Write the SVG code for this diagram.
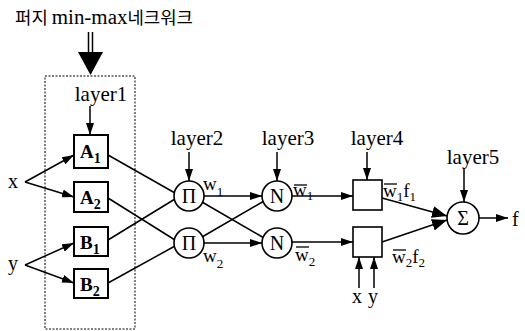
<svg xmlns="http://www.w3.org/2000/svg" width="525" height="331" viewBox="0 0 525 331">
<style>
text{font-family:Tinos,"Liberation Serif","Nimbus Roman","Nimbus Roman No9 L","DejaVu Serif",FreeSerif,"Noto Serif",Times,serif;fill:#000}
.lbl{font-size:21px;text-anchor:middle}
.sym{font-size:20px;text-anchor:middle}
.var{font-size:20px}
.w{font-size:19px}
.sub{font-size:13px}
.bl{font-weight:bold;font-size:19px}
.bsub{font-weight:bold;font-size:14px}
.kr{font-family:"Noto Sans CJK KR","Noto Sans CJK SC",sans-serif;font-size:17px}
.bx{fill:#fff;stroke:#000;stroke-width:2}
.bx4{fill:#fff;stroke:#000;stroke-width:1.6}
.nd{fill:#fff;stroke:#000;stroke-width:1.6}
.c{stroke:#000;stroke-width:1.5;fill:none}
.ar{marker-end:url(#ah)}
.big{marker-end:url(#bh)}
.ov{stroke:#000;stroke-width:1.3}
</style>
<defs>
<marker id="ah" markerUnits="userSpaceOnUse" markerWidth="12" markerHeight="8" refX="12" refY="4" orient="auto"><path d="M0,0 L12,4 L0,8 z" fill="#000"/></marker>
<marker id="bh" markerUnits="userSpaceOnUse" markerWidth="15" markerHeight="12" refX="15" refY="6" orient="auto"><path d="M0,0 L15,6 L0,12 z" fill="#000"/></marker>
</defs>
<rect width="525" height="331" fill="#fff"/>

<g id="title">
<text x="15" y="24" textLength="178" lengthAdjust="spacingAndGlyphs"><tspan class="kr">퍼지 </tspan><tspan font-size="20">min-max</tspan><tspan class="kr">네크워크</tspan></text>
<line x1="88.5" y1="32" x2="88.5" y2="53" stroke="#000" stroke-width="1.5"/>
<line x1="92.5" y1="32" x2="92.5" y2="53" stroke="#000" stroke-width="1.5"/>
<path d="M78,52 L103,52 L90.5,75 z" fill="#000"/>
</g>

<g id="fuzzy-box">
<rect x="45" y="76" width="90" height="253" fill="none" stroke="#000" stroke-width="1" stroke-dasharray="2 1.5"/>
</g>

<g id="connectors">
<path class="c ar" d="M25,182 L74,155"/>
<path class="c ar" d="M25,182 L74,197"/>
<path class="c ar" d="M25,265 L74,243"/>
<path class="c ar" d="M25,265 L74,283"/>
<path class="c" d="M108,155 L175,193"/>
<path class="c" d="M108,240 L175,199"/>
<path class="c" d="M108,198 L175,240"/>
<path class="c" d="M108,283 L175,246"/>
<path class="c ar" d="M204,196 L262,196"/>
<path class="c" d="M202,202 L264,238"/>
<path class="c" d="M202,237 L264,201"/>
<path class="c ar" d="M204,243 L262,243"/>
<path class="c ar" d="M292,196 L353,196"/>
<path class="c ar" d="M292,242 L353,242"/>
<path class="c big" d="M382,198 L447,216"/>
<path class="c big" d="M382,242 L447,220"/>
<path class="c ar" d="M479,218 L508,218"/>
<path class="c ar" d="M359,288 L359,257"/>
<path class="c ar" d="M374,288 L374,257"/>
<path class="c ar" d="M90,106 L90,135"/>
<path class="c ar" d="M189,152 L189,181"/>
<path class="c ar" d="M277,152 L277,181"/>
<path class="c ar" d="M367,152 L367,180"/>
<path class="c ar" d="M464,168 L464,202"/>
</g>

<g id="labels">
<text class="lbl" x="101" y="101">layer1</text>
<text class="lbl" x="197" y="145">layer2</text>
<text class="lbl" x="288" y="145">layer3</text>
<text class="lbl" x="377" y="145">layer4</text>
<text class="lbl" x="473" y="164">layer5</text>
<text class="w" x="203" y="190">w<tspan class="sub" dy="6">1</tspan></text>
<text class="w" x="203" y="262">w<tspan class="sub" dy="6">2</tspan></text>
<line class="ov" x1="294" y1="185" x2="307" y2="185"/>
<text class="w" x="293" y="196">w<tspan class="sub" dy="4">1</tspan></text>
<line class="ov" x1="296" y1="247" x2="309" y2="247"/>
<text class="w" x="295" y="261">w<tspan class="sub" dy="5">2</tspan></text>
<line class="ov" x1="384" y1="184" x2="397" y2="184"/>
<text class="w" x="383" y="197">w<tspan class="sub" dy="4">1</tspan><tspan dy="-4">f</tspan><tspan class="sub" dy="4">1</tspan></text>
<line class="ov" x1="393" y1="250" x2="406" y2="250"/>
<text class="w" x="392" y="263">w<tspan class="sub" dy="4">2</tspan><tspan dy="-4">f</tspan><tspan class="sub" dy="4">2</tspan></text>
<text class="var" x="352" y="303">x</text>
<text class="var" x="368" y="303">y</text>
<text class="var" x="512" y="226">f</text>
</g>

<g id="x"><text class="var" x="8" y="188">x</text></g>
<g id="y"><text class="var" x="8" y="270">y</text></g>

<g id="A1"><rect class="bx" x="74" y="135" width="34" height="33" stroke-width="2.6"/><text class="bl" x="80" y="158">A<tspan class="bsub" dy="5">1</tspan></text></g>
<g id="A2"><rect class="bx" x="74" y="182" width="34" height="30"/><text class="bl" x="80" y="204">A<tspan class="bsub" dy="5">2</tspan></text></g>
<g id="B1"><rect class="bx" x="74" y="227" width="34" height="29"/><text class="bl" x="80" y="249">B<tspan class="bsub" dy="5">1</tspan></text></g>
<g id="B2"><rect class="bx" x="74" y="269" width="34" height="29"/><text class="bl" x="80" y="291">B<tspan class="bsub" dy="5">2</tspan></text></g>

<g id="P1"><circle class="nd" cx="189" cy="196" r="15"/><text class="sym" x="189" y="203">Π</text></g>
<g id="P2"><circle class="nd" cx="189" cy="243" r="15"/><text class="sym" x="189" y="250">Π</text></g>
<g id="N1"><circle class="nd" cx="277" cy="196" r="15"/><text class="sym" x="277" y="203">N</text></g>
<g id="N2"><circle class="nd" cx="277" cy="243" r="15"/><text class="sym" x="277" y="250">N</text></g>
<g id="L4a"><rect class="bx4" x="353" y="180" width="29" height="30"/></g>
<g id="L4b"><rect class="bx4" x="353" y="227" width="29" height="30"/></g>
<g id="S"><circle class="nd" cx="463" cy="218" r="16"/><text class="sym" x="463" y="225">Σ</text></g>
</svg>
